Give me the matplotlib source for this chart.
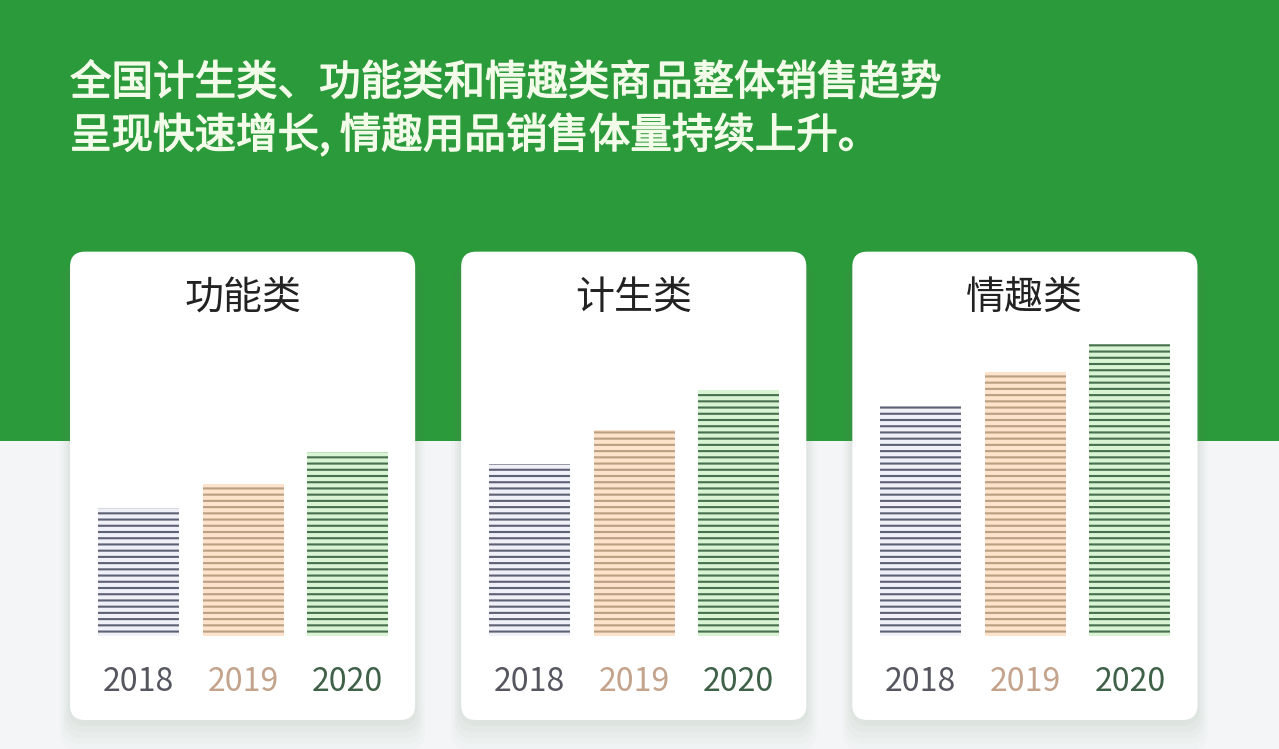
import matplotlib
matplotlib.use("Agg")
import matplotlib.pyplot as plt
import matplotlib.patheffects as pe
from matplotlib.patches import FancyBboxPatch, Rectangle
import numpy as np

plt.rcParams['font.family'] = ['Noto Sans CJK SC', 'DejaVu Sans']

# ---------------- data ----------------
headline = ["全国计生类、功能类和情趣类商品整体销售趋势",
            "呈现快速增长, 情趣用品销售体量持续上升。"]
categories = ["功能类", "计生类", "情趣类"]
years = ["2018", "2019", "2020"]
# relative sales volume (arbitrary units)
values_func = [128, 152, 184]
values_family = [172, 206, 246]
values_fun = [230, 264, 292]
series = [values_func, values_family, values_fun]

fill_colors = ["#eff0f8", "#fde3cb", "#d9f4d3"]
line_colors = ["#5f6174", "#bb9f82", "#46704f"]
label_colors = ["#55565f", "#c3a38b", "#3f6148"]

# ---------------- figure ----------------
W, H = 1279, 749
DPI = 112.5
fig = plt.figure(figsize=((W + 0.5) / DPI, (H + 0.5) / DPI), dpi=DPI)
fig.patch.set_facecolor("#f3f5f6")
PT = 72.0 / DPI  # points per pixel
plt.rcParams['hatch.linewidth'] = 2.1 * PT

bg = fig.add_axes([0, 0, 1, 1])
bg.set_xlim(0, W)
bg.set_ylim(H, 0)
bg.axis("off")
bg.set_zorder(0)

bg.add_patch(Rectangle((0, 0), W, 441, facecolor="#2b9a3b", edgecolor="none"))

head_color = "#f3fbe9"
for i, line in enumerate(headline):
    bg.text(70, 84 + i * 52, line, fontsize=41.5 * PT, color=head_color,
            fontweight="regular", va="center", ha="left",
            path_effects=[pe.Stroke(linewidth=1.3 * PT, foreground=head_color),
                          pe.Normal()])

card_x0 = [70, 461, 852]
card_w, card_top, card_bot = 345, 252, 720
for x0 in card_x0:
    for k, a in enumerate([0.04, 0.035, 0.03, 0.025, 0.02]):
        bg.add_patch(FancyBboxPatch((x0 - 2 - k * 2, card_top + 6 + k * 2),
                                    card_w + 4 + k * 4, card_bot - card_top + k * 4,
                                    boxstyle="round,pad=0,rounding_size=18",
                                    facecolor="#6f8f6f", alpha=a, edgecolor="none"))
    bg.add_patch(FancyBboxPatch((x0, card_top), card_w, card_bot - card_top,
                                boxstyle="round,pad=0,rounding_size=15",
                                facecolor="#ffffff", edgecolor="none"))

# ---------------- bar panels ----------------
base = 636
ax_h = base - card_top
first_c, step, bar_w = 68.5, 104.5, 81
x = np.arange(len(years))
for ci, (x0, cat, vals) in enumerate(zip(card_x0, categories, series)):
    ax = fig.add_axes([x0 / W, (H - base) / H, card_w / W, ax_h / H])
    ax.set_zorder(2)
    ax.patch.set_alpha(0)
    ax.set_xlim(-first_c / step, (card_w - first_c) / step)
    ax.set_ylim(0, ax_h)
    for j in range(len(years)):
        ax.bar(x[j], vals[j], width=bar_w / step, facecolor=fill_colors[j],
               edgecolor=line_colors[j], linewidth=0, hatch="---")
    for s in ax.spines.values():
        s.set_visible(False)
    ax.set_yticks([])
    ax.set_xticks(x)
    ax.set_xticklabels(years, fontsize=32 * PT, fontweight="light")
    ax.tick_params(axis="x", length=0, pad=30 * PT)
    for lab, col in zip(ax.get_xticklabels(), label_colors):
        lab.set_color(col)
    ax.text(0.5, (base - 298) / ax_h, cat, transform=ax.transAxes,
            ha="center", va="center", fontsize=39 * PT, color="#222222",
            fontweight="medium")

fig.savefig("out.png", dpi=DPI, facecolor=fig.get_facecolor())
